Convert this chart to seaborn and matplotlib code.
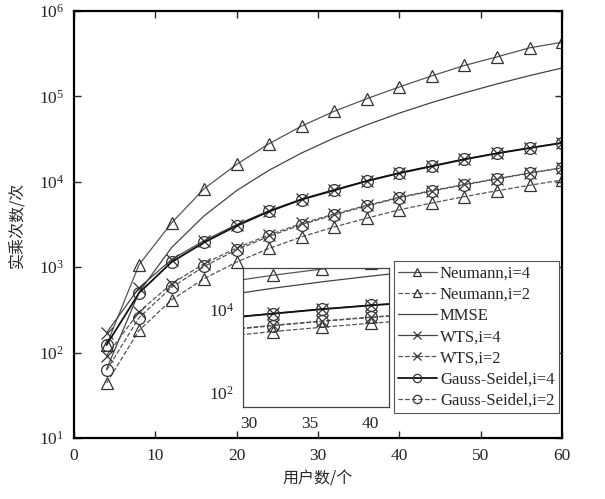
import matplotlib
matplotlib.use("Agg")
import matplotlib.pyplot as plt
import seaborn as sns
import pandas as pd

# ---------------- data ----------------
users = [4, 8, 12, 16, 20, 24, 28, 32, 36, 40, 44, 48, 52, 56, 60]

neumann_i4 = [123, 1070, 3300, 8300, 16000, 28000, 45000, 67000, 94000,
              129000, 174000, 230000, 290000, 370000, 430000]
neumann_i2 = [44, 182, 415, 735, 1150, 1660, 2270, 2960, 3750,
              4700, 5650, 6700, 7850, 9100, 10500]
mmse = [64, 510, 1700, 4000, 7900, 13700, 21800, 32600, 46400,
        63700, 84800, 110000, 140000, 175000, 215000]
wts_i4 = [170, 575, 1230, 2050, 3150, 4600, 6300, 8100, 10300,
          12800, 15400, 18500, 21700, 25000, 28700]
wts_i2 = [92, 300, 640, 1100, 1680, 2400, 3250, 4200, 5300,
          6600, 7900, 9300, 10900, 12700, 14600]
gs_i4 = [123, 500, 1150, 1950, 3050, 4500, 6200, 7950, 10200,
         12600, 15200, 18300, 21500, 24800, 28500]
gs_i2 = [62, 257, 580, 1020, 1600, 2300, 3150, 4100, 5200,
         6500, 7800, 9200, 10800, 12600, 14500]

labels = ["Neumann,i=4", "Neumann,i=2", "MMSE", "WTS,i=4", "WTS,i=2",
          "Gauss-Seidel,i=4", "Gauss-Seidel,i=2"]
values = [neumann_i4, neumann_i2, mmse, wts_i4, wts_i2, gs_i4, gs_i2]

# style per series: marker, linestyle, color, linewidth
styles = [("^", "-", "#555555", 0.9),
          ("^", "--", "#555555", 0.9),
          (None, "-", "#444444", 0.9),
          ("x", "-", "#444444", 0.9),
          ("x", "--", "#555555", 0.9),
          ("o", "-", "#111111", 1.3),
          ("o", "--", "#555555", 0.9)]

# ---------------- style ----------------
sns.set_style("ticks")
plt.rcParams["font.family"] = ["Liberation Serif", "Noto Sans CJK SC"]
plt.rcParams["mathtext.fontset"] = "stix"
plt.rcParams["font.size"] = 12
cjk = ["Noto Sans CJK SC", "DejaVu Sans"]


def draw(ax, legend=False):
    for lab, vals, (mk, ls, col, lw) in zip(labels, values, styles):
        df = pd.DataFrame({"x": users, "y": vals})
        sns.lineplot(data=df, x="x", y="y", ax=ax, marker=mk, linestyle=ls,
                     color=col, linewidth=lw, markersize=8.5,
                     markerfacecolor="none", markeredgecolor="#333333",
                     markeredgewidth=0.9, label=lab if legend else None,
                     legend=False)


fig = plt.figure(figsize=(6.05, 4.99), dpi=100)
ax = fig.add_axes([0.1223, 0.1222, 0.8067, 0.8558])
draw(ax, legend=True)
ax.set_yscale("log")
ax.set_xlim(0, 60)
ax.set_ylim(10, 1e6)
ax.set_xticks([0, 10, 20, 30, 40, 50, 60])
ax.set_yticks([1e1, 1e2, 1e3, 1e4, 1e5, 1e6])
ax.minorticks_off()
ax.tick_params(direction="in", top=True, right=True, length=5, width=1,
               labelsize=12.5, pad=7)
for s in ax.spines.values():
    s.set_linewidth(1.6)
    s.set_color("black")
ax.set_xlabel("用户数/个", family=cjk, fontsize=11.5, labelpad=5,
              weight="medium")
ax.set_ylabel("实乘次数/次", family=cjk, fontsize=11.5, labelpad=9,
              weight="medium")

leg = ax.legend(loc="lower right", bbox_to_anchor=(0.993, 0.059),
                borderaxespad=0, fancybox=False, framealpha=1,
                edgecolor="#555555", fontsize=12, handlelength=2.3,
                handletextpad=0.2, labelspacing=0.31, borderpad=0.25,
                markerscale=0.7)
leg.get_frame().set_linewidth(0.8)

# ---------------- inset ----------------
ins = fig.add_axes([0.401, 0.184, 0.242, 0.279])
draw(ins)
ins.set_yscale("log")
ins.set_xlim(29.5, 41.5)
ins.set_ylim(45, 1.0e5)
ins.set_xticks([30, 35, 40])
ins.set_yticks([1e2, 1e4])
ins.minorticks_off()
ins.set_xlabel("")
ins.set_ylabel("")
ins.tick_params(direction="in", length=0, labelsize=12.5, pad=6)
for s in ins.spines.values():
    s.set_linewidth(0.9)
    s.set_color("#444444")

fig.savefig("out.png", dpi=100)
